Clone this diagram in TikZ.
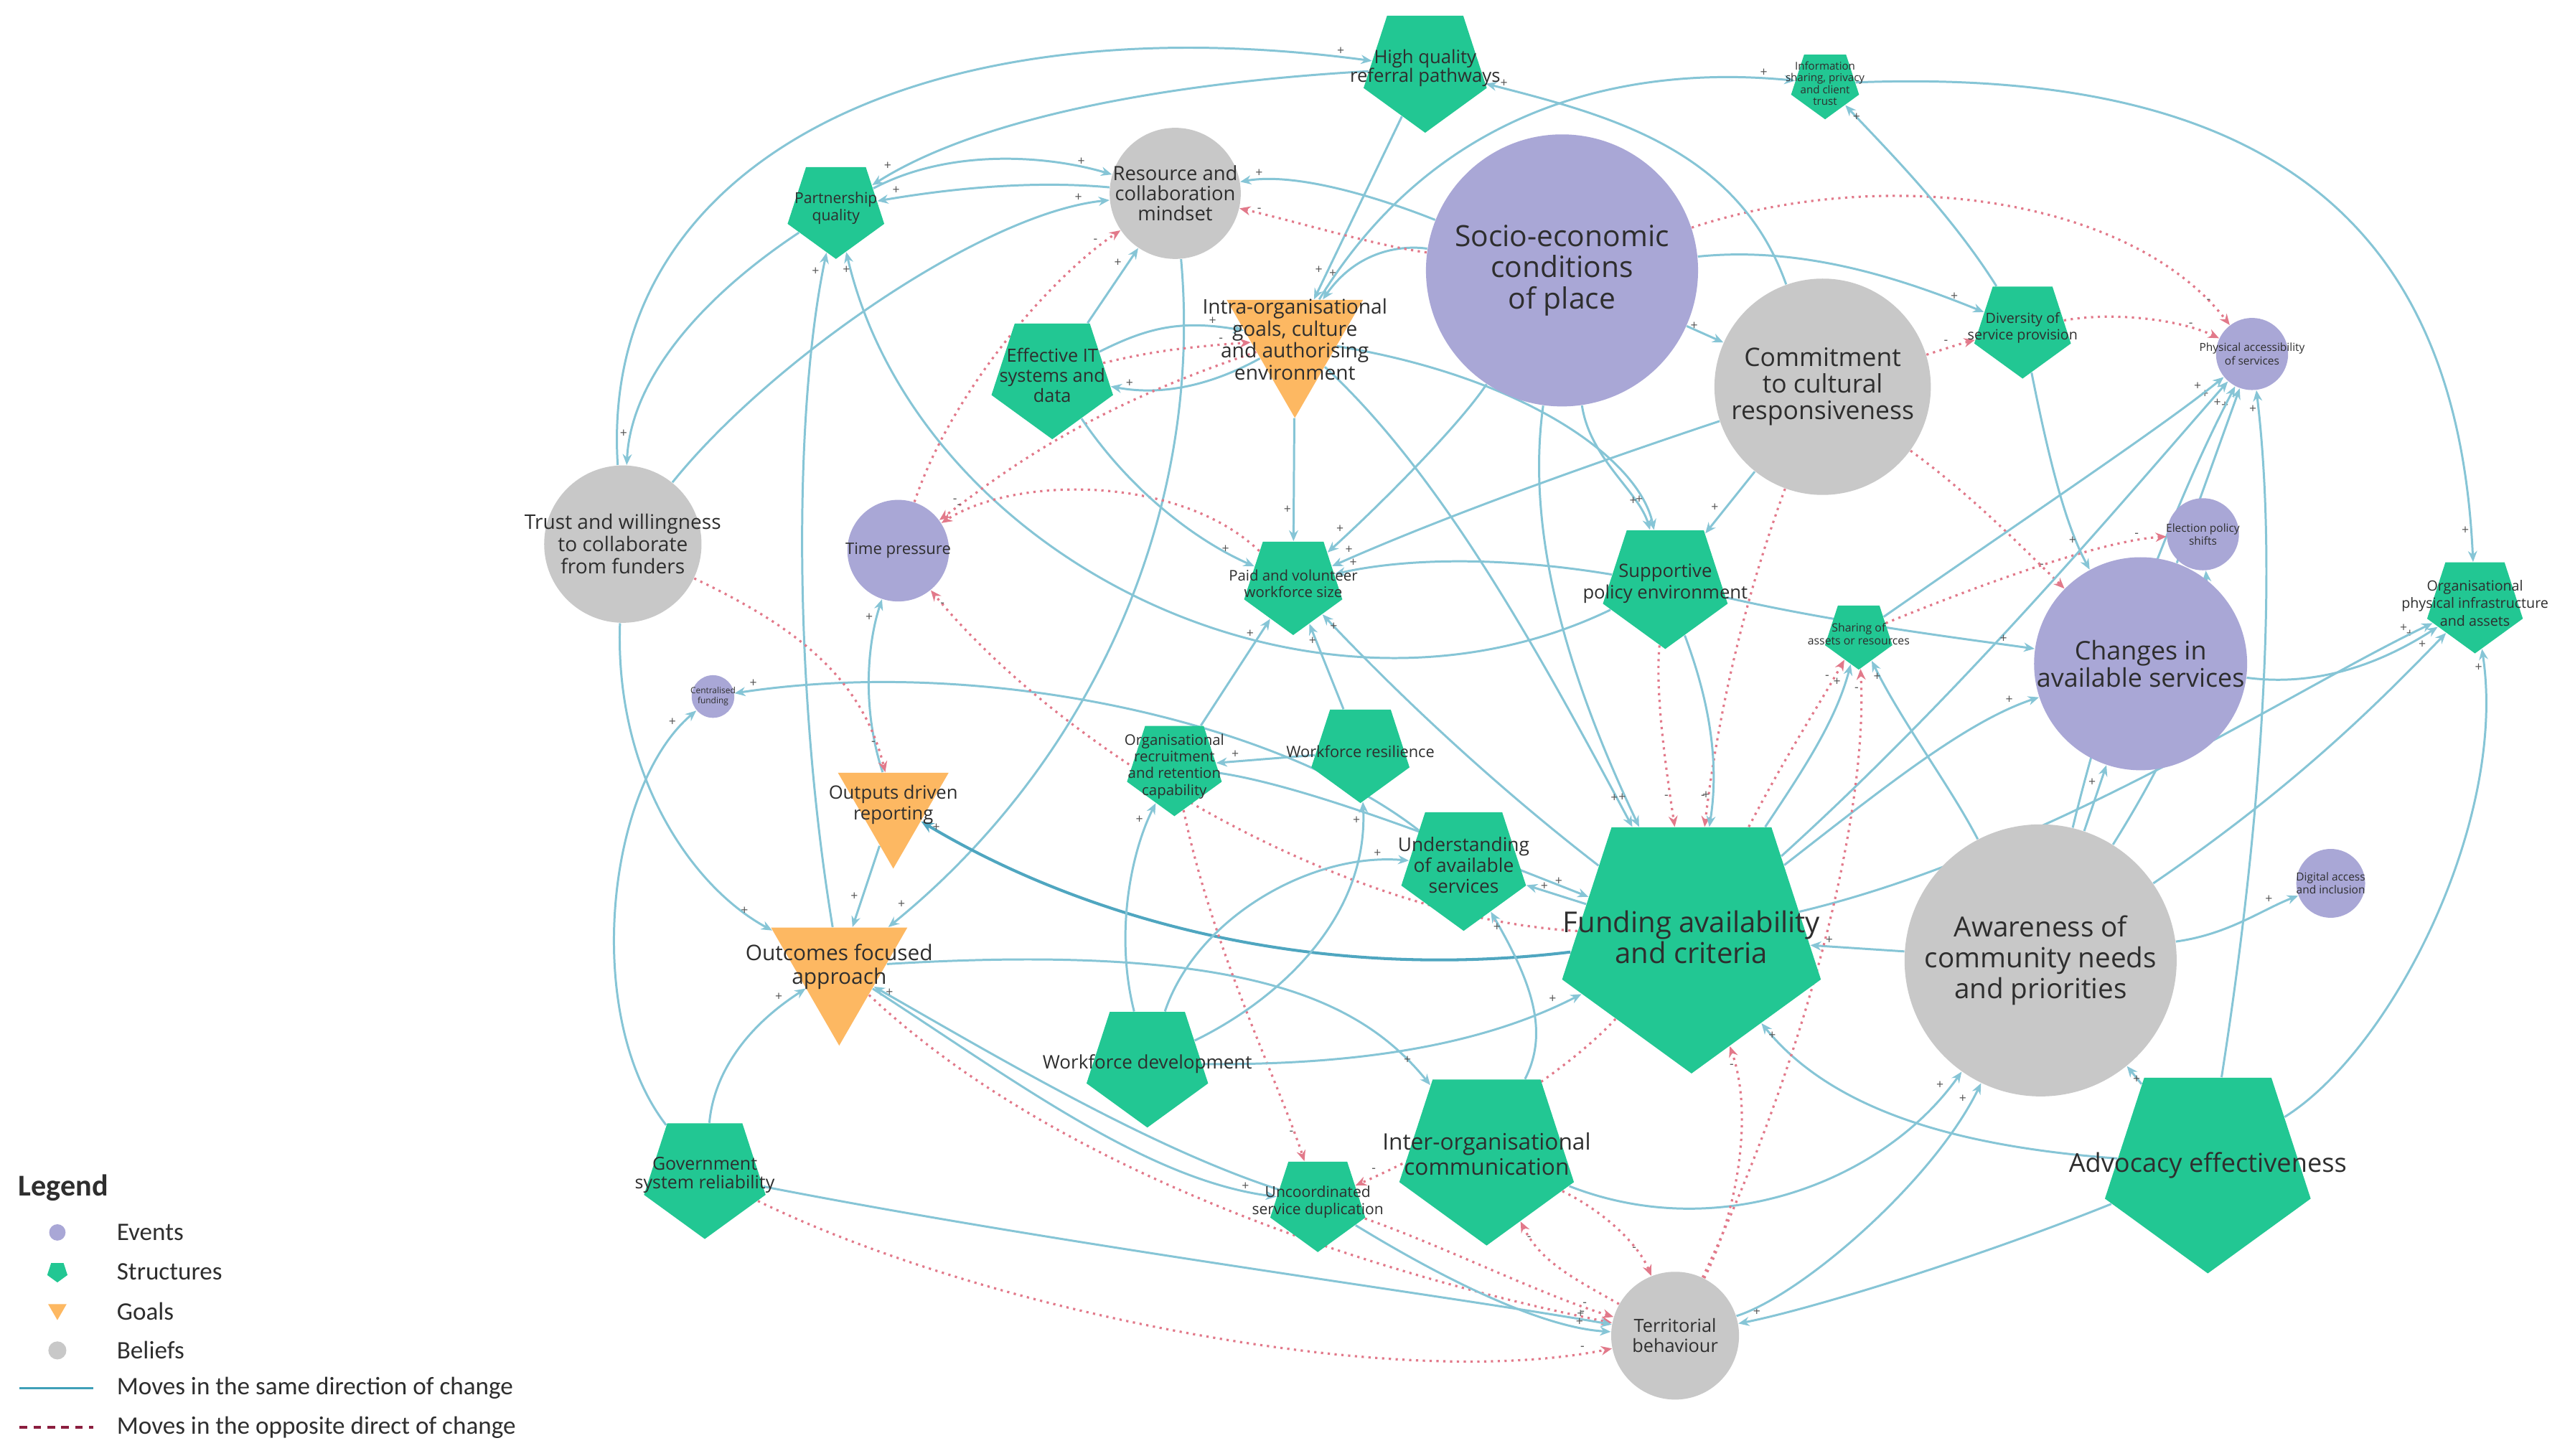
\documentclass[tikz,border=0pt]{standalone}
\usepackage{fontspec}
\setmainfont{Open Sans}
\newfontfamily\legfont{Carlito}
\usetikzlibrary{arrows.meta,shapes.geometric,decorations.markings}
\pgfdeclarelayer{bg}
\pgfdeclarelayer{paper}
\pgfsetlayers{paper,bg,main}
\definecolor{evc}{HTML}{A9A7D6}
\definecolor{stc}{HTML}{22C793}
\definecolor{goc}{HTML}{FDB862}
\definecolor{bec}{HTML}{C8C8C8}
\definecolor{blc}{HTML}{86C5D6}
\definecolor{bld}{HTML}{4FA6C0}
\definecolor{rdc}{HTML}{E2798A}
\definecolor{txc}{HTML}{2E2E2E}
\definecolor{sgc}{HTML}{555555}
\definecolor{lgb}{HTML}{3FA0B8}
\definecolor{lgr}{HTML}{8B1E3F}
\tikzset{
 ev/.style={circle,fill=evc,minimum size=#1*0.04568cm,inner sep=0pt},
 be/.style={circle,fill=bec,minimum size=#1*0.04568cm,inner sep=0pt},
 stt/.style={regular polygon,regular polygon sides=5,shape border rotate=180,fill=stc,minimum size=#1*0.04568cm,inner sep=0pt},
 gl/.style={regular polygon,regular polygon sides=3,shape border rotate=180,fill=goc,minimum size=#1*0.04568cm,inner sep=0pt},
 lab/.style 2 args={align=center,inner sep=0pt,text=txc,font=\fontsize{#1}{#2}\selectfont},
 legt/.style={anchor=west,inner sep=0pt,text=txc,font=\legfont\fontsize{10}{11}\selectfont},
 sg/.style={inner sep=0.6pt,text=sgc,font=\fontsize{5}{5}\selectfont},
 plus/.style={postaction={decorate},decoration={markings,mark=at position -10pt with {\node[sg,anchor=south east] {+};}}},
 minus/.style={postaction={decorate},decoration={markings,mark=at position -10pt with {\node[sg,anchor=south east] {-};}}},
 bl/.style={draw=blc,line width=0.85pt,-{Stealth[length=4.3pt,width=3.6pt]},plus},
 blt/.style={draw=bld,line width=1.15pt,-{Stealth[length=5pt,width=4.2pt]},plus},
 rd/.style={draw=rdc,line width=0.9pt,dash pattern=on 0.9pt off 1.8pt,-{Stealth[length=4.3pt,width=3.6pt]},minus},
}
\begin{document}
\begin{tikzpicture}[x=0.02284cm,y=-0.02284cm]
\useasboundingbox (0,0) rectangle (1568,888);
\begin{pgfonlayer}{paper}
\fill[white] (0,0) rectangle (1568,888);
\end{pgfonlayer}
% ---------- events
\node[ev=83] (se) at (953,165) {};
\node[lab={11.6}{12.4}] (se-t) at (se) {Socio-economic\\conditions\\of place};
\node[ev=65] (ch) at (1306,405) {};
\node[lab={10.2}{11}] (ch-t) at (ch) {Changes in\\available services};
\node[ev=22] (pa) at (1374,216) {};
\node[lab={4.4}{5.2}] (pa-t) at (pa) {Physical accessibility\\of services};
\node[ev=22] (el) at (1344,326) {};
\node[lab={4.4}{5.2}] (el-t) at (el) {Election policy\\shifts};
\node[ev=21] (da) at (1422,539) {};
\node[lab={4.4}{5.2}] (da-t) at (da) {Digital access\\and inclusion};
\node[ev=31] (tp) at (548,336) {};
\node[lab={6.3}{7}] (tp-t) at (tp) {Time pressure};
\node[ev=13] (cf) at (435,425) {};
\node[lab={3.4}{4}] (cf-t) at (cf) {Centralised\\funding};
% ---------- beliefs
\node[be=40] (rm) at (717,118) {};
\node[lab={7.8}{8}] (rm-t) at (rm) {Resource and\\collaboration\\mindset};
\node[be=66] (cr) at (1112,236) {};
\node[lab={10.1}{10.6}] (cr-t) at (cr) {Commitment\\to cultural\\responsiveness};
\node[be=48] (tw) at (380,332) {};
\node[lab={8}{8.8}] (tw-t) at (tw) {Trust and willingness\\to collaborate\\from funders};
\node[be=83] (aw) at (1245,586) {};
\node[lab={11}{12.3}] (aw-t) at (aw) {Awareness of\\community needs\\and priorities};
\node[be=39] (tb) at (1022,815) {};
\node[lab={7.2}{8}] (tb-t) at (tb) {Territorial\\behaviour};
% ---------- structures
\node[stt=39.5] (hq) at (869.5,41.5) {};
\node[lab={7.3}{7.6}] (hq-t) at (hq) {High quality\\referral pathways};
\node[stt=21.8] (is) at (1113.5,51) {};
\node[lab={4.3}{4.7}] (is-t) at (is) {Information\\sharing, privacy\\and client\\trust};
\node[stt=31] (pq) at (510,127) {};
\node[lab={6}{6.8}] (pq-t) at (pq) {Partnership\\quality};
\node[stt=39] (it) at (642,229) {};
\node[lab={7.2}{8}] (it-t) at (it) {Effective IT\\systems and\\data};
\node[stt=31] (dv) at (1234,200) {};
\node[lab={5.6}{6.5}] (dv-t) at (dv) {Diversity of\\service provision};
\node[stt=31.5] (pv) at (789,356) {};
\node[lab={5.8}{6.5}] (pv-t) at (pv) {Paid and volunteer\\workforce size};
\node[stt=40] (sp) at (1016,356) {};
\node[lab={7.3}{8.5}] (sp-t) at (sp) {Supportive\\policy environment};
\node[stt=21.6] (sa) at (1134,387) {};
\node[lab={4.5}{5.2}] (sa-t) at (sa) {Sharing of\\assets or resources};
\node[stt=30.7] (op) at (1510,368) {};
\node[lab={5.6}{7}] (op-t) at (op) {Organisational\\physical infrastructure\\and assets};
\node[stt=30.4] (or) at (716.5,467.6) {};
\node[lab={5.8}{6.6}] (or-t) at (or) {Organisational\\recruitment\\and retention\\capability};
\node[stt=31.5] (wr) at (830,458.5) {};
\node[lab={6.2}{7}] (wr-t) at (wr) {Workforce resilience};
\node[stt=40] (ua) at (893,528) {};
\node[lab={7.5}{8.3}] (ua-t) at (ua) {Understanding\\of available\\services};
\node[stt=83] (fa) at (1032,572) {};
\node[lab={11.4}{12.3}] (fa-t) at (fa) {Funding availability\\and criteria};
\node[stt=39] (wd) at (700,649) {};
\node[lab={7.4}{9}] (wd-t) at (wd) {Workforce development};
\node[stt=56] (ic) at (907,704) {};
\node[lab={9}{10}] (ic-t) at (ic) {Inter-organisational\\communication};
\node[stt=30.5] (ud) at (804,733.5) {};
\node[lab={6}{7}] (ud-t) at (ud) {Uncoordinated\\service duplication};
\node[stt=39] (gs) at (430,717) {};
\node[lab={7.1}{7.6}] (gs-t) at (gs) {Government\\system reliability};
\node[stt=66] (ae) at (1347,711) {};
\node[lab={10.3}{11}] (ae-t) at (ae) {Advocacy effectiveness};
% ---------- goals
\node[gl=48] (ig) at (790,207) {};
\node[lab={8}{8.7}] (ig-t) at (ig) {Intra-organisational\\goals, culture\\and authorising\\environment};
\node[gl=39] (od) at (545,491) {};
\node[lab={7.3}{8.3}] (od-t) at (od) {Outputs driven\\reporting};
\node[gl=48] (oc) at (512,590) {};
\node[lab={8.5}{9.3}] (oc-t) at (oc) {Outcomes focused\\approach};
% ---------- connectors
\begin{pgfonlayer}{bg}
% top-left
\draw[bl] (tw) .. controls (365,100) and (560,0) .. (hq);
\draw[bl] (pq) .. controls (430,180) and (385,230) .. (tw);
\draw[bl] (tw) .. controls (470,220) and (600,130) .. (rm);
\draw[bl] (hq) .. controls (720,50) and (600,70) .. (pq);
\draw[bl] (rm) .. controls (630,110) and (580,115) .. (pq);
\draw[bl] (pq) .. controls (580,90) and (640,95) .. (rm);
\draw[bl] (oc) .. controls (484,420) and (484,250) .. (pq);
\draw[bl] (sp) .. controls (800,460) and (560,340) .. (pq);
\draw[bl] (rm) .. controls (735,320) and (660,470) .. (oc);
\draw[bl] (tw) .. controls (375,470) and (420,540) .. (oc);
\draw[bl] (gs) .. controls (355,620) and (370,480) .. (cf);
\draw[bl] (ua) .. controls (780,440) and (600,400) .. (cf);
\draw[bl] (gs) .. controls (435,660) and (450,630) .. (oc);
\draw[bl] (od) -- (oc);
\draw[bl] (od) .. controls (525,430) and (530,390) .. (tp);
\draw[rd] (tw) .. controls (480,380) and (525,410) .. (od);
\draw[blt] (fa) .. controls (800,600) and (660,560) .. (od);
\draw[bl] (oc) .. controls (760,575) and (830,610) .. (ic);
\draw[bl] (ud) .. controls (700,700) and (600,640) .. (oc);
\draw[bl] (oc) .. controls (620,660) and (700,720) .. (ud);
\draw[rd] (oc) .. controls (650,720) and (850,780) .. (tb);
\draw[bl] (gs) .. controls (650,760) and (880,790) .. (tb);
\draw[rd] (gs) .. controls (600,800) and (850,850) .. (tb);
% middle
\draw[bl] (hq) -- (ig);
\draw[bl] (se) .. controls (860,150) and (830,150) .. (ig);
\draw[bl] (se) .. controls (840,120) and (790,105) .. (rm);
\draw[rd] (se) .. controls (840,150) and (790,135) .. (rm);
\draw[bl] (it) -- (rm);
\draw[bl] (it) .. controls (700,200) and (720,195) .. (ig);
\draw[bl] (ig) .. controls (730,240) and (700,240) .. (it);
\draw[rd] (it) .. controls (700,215) and (720,212) .. (ig);
\draw[rd] (tp) .. controls (580,240) and (640,170) .. (rm);
\draw[rd] (ig) .. controls (660,250) and (610,290) .. (tp);
\draw[rd] (pv) .. controls (720,290) and (620,290) .. (tp);
\draw[rd] (fa) .. controls (820,560) and (650,460) .. (tp);
\draw[rd] (or) .. controls (740,580) and (780,660) .. (ud);
\draw[bl] (ig) -- (pv);
\draw[bl] (it) .. controls (690,300) and (730,330) .. (pv);
\draw[bl] (se) .. controls (890,260) and (840,310) .. (pv);
\draw[bl] (cr) .. controls (950,290) and (870,320) .. (pv);
\draw[bl] (sp) .. controls (920,340) and (860,340) .. (pv);
\draw[bl] (fa) .. controls (900,470) and (840,410) .. (pv);
\draw[bl] (or) -- (pv);
\draw[bl] (wr) -- (pv);
\draw[bl] (wr) -- (or);
\draw[bl] (or) .. controls (800,480) and (900,520) .. (fa);
\draw[bl] (wd) .. controls (680,570) and (690,520) .. (or);
\draw[bl] (wd) .. controls (730,560) and (800,520) .. (ua);
\draw[bl] (wd) .. controls (780,610) and (835,560) .. (wr);
\draw[bl] (wd) .. controls (820,650) and (900,640) .. (fa);
\draw[bl] (fa) -- (ua);
\draw[bl] (ic) .. controls (945,630) and (935,600) .. (ua);
% right
\draw[bl] (se) -- (cr);
\draw[bl] (se) .. controls (930,330) and (960,420) .. (fa);
\draw[bl] (se) .. controls (970,280) and (1000,300) .. (sp);
\draw[bl] (se) .. controls (1100,150) and (1160,170) .. (dv);
\draw[bl] (ig) .. controls (880,290) and (940,400) .. (fa);
\draw[bl] (ig) .. controls (930,230) and (1000,280) .. (sp);
\draw[bl] (cr) -- (sp);
\draw[rd] (cr) .. controls (1070,350) and (1050,420) .. (fa);
\draw[rd] (sp) .. controls (1010,420) and (1015,460) .. (fa);
\draw[rd] (cr) .. controls (1200,300) and (1230,330) .. (ch);
\draw[rd] (dv) .. controls (1290,190) and (1330,195) .. (pa);
\draw[rd] (se) .. controls (1150,100) and (1300,120) .. (pa);
\draw[rd] (cr) .. controls (1180,215) and (1195,210) .. (dv);
\draw[bl] (dv) .. controls (1190,130) and (1150,90) .. (is);
\draw[bl] (is) .. controls (1400,40) and (1500,150) .. (op);
\draw[bl] (ig) .. controls (880,60) and (1000,40) .. (is);
\draw[bl] (cr) .. controls (1060,90) and (980,70) .. (hq);
\draw[bl] (ch) -- (pa);
\draw[bl] (dv) .. controls (1250,280) and (1260,320) .. (ch);
\draw[bl] (ch) .. controls (1420,420) and (1460,400) .. (op);
\draw[bl] (aw) .. controls (1290,400) and (1330,300) .. (pa);
\draw[bl] (aw) -- (ch);
\draw[bl] (aw) .. controls (1190,480) and (1160,440) .. (sa);
\draw[bl] (aw) .. controls (1360,570) and (1380,555) .. (da);
\draw[bl] (aw) .. controls (1400,480) and (1450,430) .. (op);
\draw[bl] (aw) .. controls (1330,450) and (1350,400) .. (el);
\draw[rd] (sa) .. controls (1200,360) and (1280,330) .. (el);
\draw[bl] (ae) .. controls (1380,500) and (1390,350) .. (pa);
\draw[bl] (ae) .. controls (1460,640) and (1530,500) .. (op);
\draw[bl] (ae) -- (aw);
\draw[bl] (ae) .. controls (1200,700) and (1120,680) .. (fa);
\draw[bl] (ae) .. controls (1200,770) and (1100,800) .. (tb);
\draw[bl] (ic) .. controls (1050,760) and (1150,720) .. (aw);
\draw[bl] (fa) .. controls (1150,480) and (1200,440) .. (ch);
\draw[bl] (fa) .. controls (1100,470) and (1120,440) .. (sa);
\draw[bl] (fa) .. controls (1200,420) and (1300,300) .. (pa);
\draw[bl] (sa) .. controls (1230,320) and (1320,260) .. (pa);
\draw[bl] (fa) .. controls (1250,520) and (1400,420) .. (op);
\draw[bl] (sp) .. controls (1120,380) and (1200,390) .. (ch);
\draw[bl] (sp) .. controls (1040,420) and (1050,460) .. (fa);
\draw[bl] (aw) -- (fa);
\draw[rd] (ic) .. controls (980,740) and (1000,760) .. (tb);
\draw[rd] (fa) .. controls (950,660) and (880,700) .. (ud);
\draw[rd] (tb) .. controls (960,780) and (940,770) .. (ic);
\draw[rd] (tb) .. controls (1060,740) and (1070,680) .. (fa);
\draw[rd] (tb) .. controls (1100,650) and (1140,500) .. (sa);
\draw[rd] (ud) .. controls (880,760) and (940,790) .. (tb);
\draw[bl] (ud) .. controls (880,780) and (940,810) .. (tb);
\draw[rd] (fa) .. controls (1090,460) and (1110,430) .. (sa);
\draw[bl] (tb) .. controls (1100,790) and (1180,720) .. (aw);
\end{pgfonlayer}
% ---------- legend
\node[anchor=west,inner sep=0pt,text=txc,font=\legfont\bfseries\fontsize{12}{13}\selectfont] (lg) at (11,725) {Legend};
\node[ev=5] (lev) at (35,752) {};
\node[legt] (lev-t) at (71,752) {Events};
\node[stt=6.5] (lst) at (35,776) {};
\node[legt] (lst-t) at (71,776) {Structures};
\node[gl=6.5] (lgo) at (35,799) {};
\node[legt] (lgo-t) at (71,800) {Goals};
\node[be=5.5] (lbe) at (35,824) {};
\node[legt] (lbe-t) at (71,824) {Beliefs};
\coordinate (l1a) at (12,847); \coordinate (l1b) at (57,847);
\draw[lgb,line width=1pt] (l1a) -- (l1b);
\node[legt] (l1-t) at (71,847) {Moves in the same direction of change};
\coordinate (l2a) at (12,871); \coordinate (l2b) at (57,871);
\draw[lgr,line width=1pt,dash pattern=on 3pt off 2.5pt] (l2a) -- (l2b);
\node[legt] (l2-t) at (71,871) {Moves in the opposite direct of change};
\end{tikzpicture}
\end{document}
